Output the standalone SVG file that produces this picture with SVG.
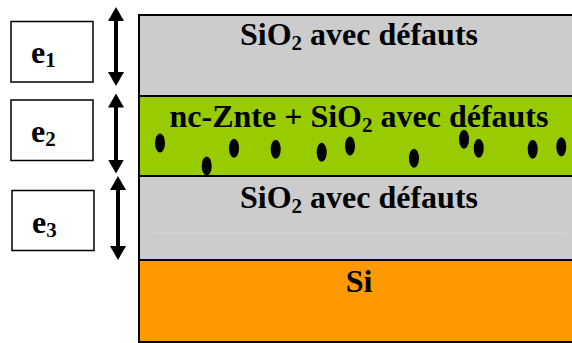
<svg xmlns="http://www.w3.org/2000/svg" width="572" height="343" viewBox="0 0 572 343">
<style>
  text { font-family: 'Liberation Serif', 'DejaVu Serif', serif; font-weight: 700; fill: #000; }
  .main { font-size: 32px; }
  .sub { font-size: 21px; }
  .box { fill: #fff; stroke: #000; stroke-width: 1.5; }
  .layer { stroke: #000; stroke-width: 2; }
  .arrow { stroke: #000; stroke-width: 4; fill: none; marker-start: url(#head); marker-end: url(#head); }
  .dot { fill: #000; }
</style>
<defs>
  <marker id="head" viewBox="0 0 14 16" refX="4" refY="8" markerWidth="14" markerHeight="16" markerUnits="userSpaceOnUse" orient="auto-start-reverse">
    <path d="M0,0 L14,8 L0,16 Z" fill="#000"/>
  </marker>
</defs>
<rect width="572" height="343" fill="#fff"/>

<g id="layer-sio2-top">
  <rect class="layer" x="139" y="15" width="440" height="81" fill="#cccccc"/>
  <text class="main" x="359" y="45" text-anchor="middle">SiO<tspan class="sub" dy="5">2</tspan><tspan dy="-5"> avec défauts</tspan></text>
</g>
<g id="layer-nc-znte">
  <rect class="layer" x="139" y="96" width="440" height="80" fill="#99cc00"/>
  <text class="main" x="359" y="127" text-anchor="middle">nc-Znte + SiO<tspan class="sub" dy="5">2</tspan><tspan dy="-5"> avec défauts</tspan></text>
  <ellipse class="dot" cx="160" cy="143" rx="5" ry="9.5"/>
  <ellipse class="dot" cx="206.7" cy="166" rx="5" ry="9.5"/>
  <ellipse class="dot" cx="234" cy="148.3" rx="5" ry="9.5"/>
  <ellipse class="dot" cx="275.7" cy="149.3" rx="5" ry="9.5"/>
  <ellipse class="dot" cx="321.7" cy="152.3" rx="5" ry="9.5"/>
  <ellipse class="dot" cx="350" cy="146" rx="5" ry="9.5"/>
  <ellipse class="dot" cx="414" cy="158.3" rx="5" ry="9.5"/>
  <ellipse class="dot" cx="464" cy="139.3" rx="5" ry="9.5"/>
  <ellipse class="dot" cx="478.7" cy="148.3" rx="5" ry="9.5"/>
  <ellipse class="dot" cx="532.7" cy="149.3" rx="5" ry="9.5"/>
  <ellipse class="dot" cx="561.3" cy="146.7" rx="5" ry="9.5"/>
</g>
<g id="layer-sio2-bottom">
  <rect class="layer" x="139" y="176" width="440" height="84" fill="#cccccc"/>
  <line x1="153" y1="233" x2="565" y2="233" stroke="#d8d8d8" stroke-width="1"/>
  <text class="main" x="359" y="208" text-anchor="middle">SiO<tspan class="sub" dy="5">2</tspan><tspan dy="-5"> avec défauts</tspan></text>
</g>
<g id="layer-si">
  <rect class="layer" x="139" y="260" width="440" height="82" fill="#ff9900"/>
  <text class="main" x="359" y="292" text-anchor="middle">Si</text>
</g>

<g id="e1">
  <rect class="box" x="11" y="21.5" width="82" height="60.5"/>
  <text class="main" x="31" y="63">e<tspan class="sub" dy="4">1</tspan></text>
</g>
<g id="e2">
  <rect class="box" x="11" y="100" width="82" height="60.5"/>
  <text class="main" x="31" y="142">e<tspan class="sub" dy="4">2</tspan></text>
</g>
<g id="e3">
  <rect class="box" x="12" y="190.5" width="82" height="60"/>
  <text class="main" x="32" y="233">e<tspan class="sub" dy="4">3</tspan></text>
</g>

<g id="connectors">
  <line class="arrow" x1="116" y1="17" x2="116" y2="76"/>
  <line class="arrow" x1="116" y1="103.5" x2="116" y2="163.5"/>
  <line class="arrow" x1="118" y1="186" x2="118" y2="250"/>
</g>
</svg>
